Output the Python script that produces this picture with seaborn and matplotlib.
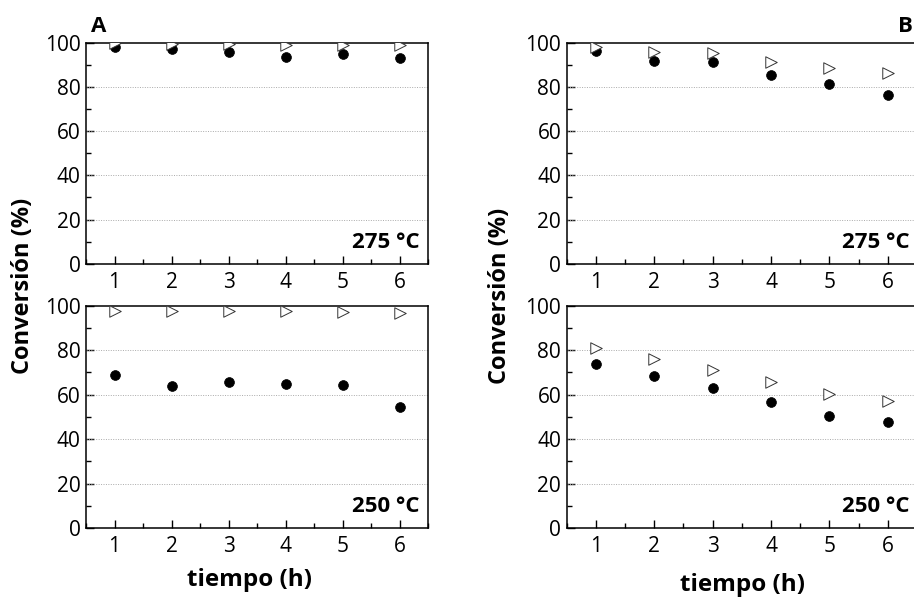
import matplotlib
matplotlib.use("Agg")
import matplotlib.pyplot as plt
import seaborn as sns
import pandas as pd
from matplotlib.ticker import MultipleLocator

sns.set_style("white")
plt.rcParams['font.family'] = ['Open Sans', 'DejaVu Sans']
plt.rcParams['text.color'] = 'black'
plt.rcParams['axes.labelcolor'] = 'black'
plt.rcParams['xtick.color'] = 'black'
plt.rcParams['ytick.color'] = 'black'

tiempo = [1, 2, 3, 4, 5, 6]
# Panel A
a275_circ = [98.2, 97.1, 95.6, 93.5, 94.7, 92.9]
a275_tri = [99.8, 99.5, 99.2, 98.8, 98.8, 98.8]
a250_circ = [69.0, 63.9, 65.7, 64.9, 64.2, 54.6]
a250_tri = [97.6, 97.6, 97.6, 97.6, 97.3, 96.9]
# Panel B
b275_circ = [96.2, 91.7, 91.3, 85.4, 81.3, 76.2]
b275_tri = [98.2, 95.6, 95.2, 91.3, 88.4, 86.1]
b250_circ = [73.8, 68.4, 62.8, 56.8, 50.5, 47.7]
b250_tri = [80.8, 76.0, 71.0, 65.8, 60.1, 57.1]

temp_labels = ["275 °C", "250 °C"]
xlabel = "tiempo (h)"
ylabel = "Conversión (%)"
yticks = [0, 20, 40, 60, 80, 100]

W, H = 914, 597
fig = plt.figure(figsize=(W / 100, H / 100), dpi=100)


def px_axes(l, r, t, b):
    return fig.add_axes([l / W, 1 - b / H, (r - l) / W, (b - t) / H])


panels = [
    (px_axes(86, 428, 42.7, 263.7), a275_circ, a275_tri, temp_labels[0]),
    (px_axes(86, 428, 305.7, 528), a250_circ, a250_tri, temp_labels[1]),
    (px_axes(566.7, 917, 42.7, 263.7), b275_circ, b275_tri, temp_labels[0]),
    (px_axes(566.7, 917, 305.7, 528), b250_circ, b250_tri, temp_labels[1]),
]

for i, (ax, circ, tri, tlabel) in enumerate(panels):
    df_c = pd.DataFrame({"tiempo": tiempo, "conv": circ})
    df_t = pd.DataFrame({"tiempo": tiempo, "conv": tri})
    sns.scatterplot(data=df_c, x="tiempo", y="conv", ax=ax, marker="o", s=50,
                    color="black", edgecolor="black", linewidth=0.5, zorder=3)
    sns.scatterplot(data=df_t, x="tiempo", y="conv", ax=ax, marker=">", s=68,
                    color="white", edgecolor="#333333", linewidth=0.7, zorder=4)
    ax.set_xlim(0.5, 6.5)
    ax.set_ylim(0, 100)
    ax.set_xticks(tiempo)
    ax.set_yticks(yticks)
    ax.xaxis.set_minor_locator(MultipleLocator(0.5))
    ax.yaxis.set_minor_locator(MultipleLocator(10))
    ax.tick_params(axis="both", which="major", direction="in", length=6,
                   width=1.0, labelsize=15, colors="black", pad=4,
                   bottom=True, left=True, top=False, right=False)
    ax.tick_params(axis="both", which="minor", direction="in", length=3.5,
                   width=1.0, bottom=True, left=True, top=False, right=False)
    ax.tick_params(axis="x", which="major", pad=6)
    for sp in ax.spines.values():
        sp.set_visible(True)
        sp.set_color("black")
        sp.set_linewidth(1.1)
    for yv in [20, 40, 60, 80]:
        ax.axhline(yv, color="#aaaaaa", linestyle=(0, (1, 1.5)), linewidth=0.7,
                   zorder=1)
    ax.set_xlabel("")
    ax.set_ylabel("")
    ax.text(0.975 if i < 2 else 0.98, 0.05, tlabel, transform=ax.transAxes,
            ha="right", va="bottom", fontsize=16, fontweight="bold")

# y labels
fig.text(23 / W, 1 - 286 / H, ylabel, rotation=90, ha="center", va="center",
         fontsize=17, fontweight="bold")
fig.text(500 / W, 1 - 296 / H, ylabel, rotation=90, ha="center", va="center",
         fontsize=17, fontweight="bold")
# x labels
fig.text(250 / W, 1 - 580 / H, xlabel, ha="center", va="center",
         fontsize=17.5, fontweight="bold")
fig.text(742 / W, 1 - 585 / H, xlabel, ha="center", va="center",
         fontsize=17.5, fontweight="bold")
# panel letters
fig.text(99 / W, 1 - 27 / H, "A", ha="center", va="center", fontsize=16,
         fontweight="bold")
fig.text(905 / W, 1 - 26 / H, "B", ha="center", va="center", fontsize=16,
         fontweight="bold")

fig.savefig("out.png", dpi=100)
